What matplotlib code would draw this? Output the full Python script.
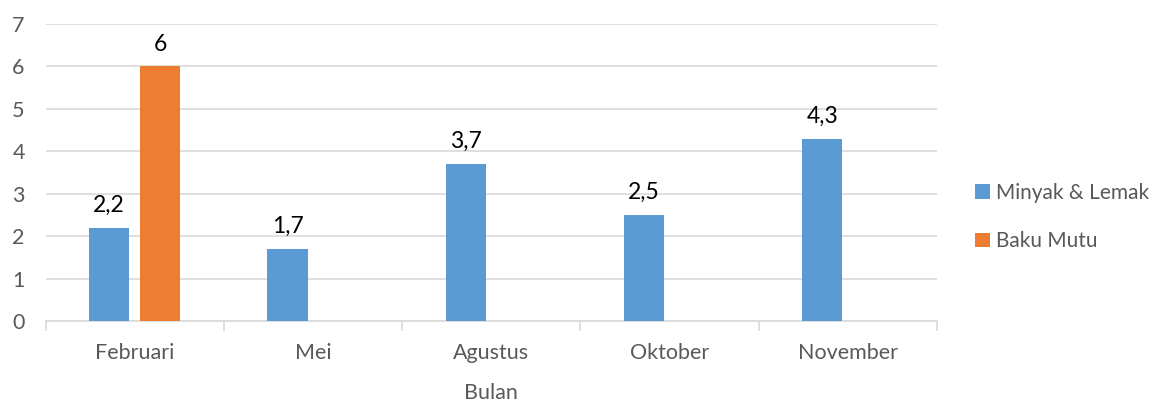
import matplotlib.pyplot as plt
import numpy as np

bulan = ["Februari", "Mei", "Agustus", "Oktober", "November"]
minyak_lemak = [2.2, 1.7, 3.7, 2.5, 4.3]
baku_mutu = [6, None, None, None, None]

blue = "#5b9bd5"
orange = "#ed7d31"
grey = "#595959"

plt.rcParams['font.family'] = ['Lato', 'DejaVu Sans']

fig = plt.figure(figsize=(11.69, 4.03), dpi=100)
ax = fig.add_axes([0.039, 0.2035, 0.7625, 0.7369])

x = np.arange(len(bulan))
w = 0.225
off = 0.143

ax.bar(x - off, minyak_lemak, w, color=blue, label="Minyak & Lemak", zorder=3)
bm_x = [xi + off for xi, v in zip(x, baku_mutu) if v is not None]
bm_v = [v for v in baku_mutu if v is not None]
ax.bar(bm_x, bm_v, w, color=orange, label="Baku Mutu", zorder=3)

for xi, v in zip(x - off, minyak_lemak):
    ax.text(xi, v + 0.28, f"{v}".replace(".", ","), ha="center", va="bottom", fontsize=16.5, color="black")
for xi, v in zip(bm_x, bm_v):
    ax.text(xi, v + 0.28, f"{v:g}".replace(".", ","), ha="center", va="bottom", fontsize=16.5, color="black")

ax.set_xlim(-0.5, len(bulan) - 0.5)
ax.set_ylim(0, 7)
ax.set_yticks(range(0, 8))
ax.yaxis.grid(True, color="#d9d9d9", linewidth=1.2, zorder=0)
ax.set_axisbelow(True)

ax.set_xticks(x)
ax.set_xticklabels(bulan)
ax.set_xticks(np.arange(-0.5, len(bulan)), minor=True)
ax.tick_params(axis="x", which="major", length=0, pad=16, labelsize=15.5, labelcolor=grey)
ax.tick_params(axis="x", which="minor", length=7, color="#d9d9d9", width=1.2)
ax.tick_params(axis="y", length=0, labelsize=15.5, labelcolor=grey)
for t in ax.get_yticklabels():
    t.set_horizontalalignment("left")
ax.yaxis.set_tick_params(pad=24)

for s in ["top", "right", "left"]:
    ax.spines[s].set_visible(False)
ax.spines["bottom"].set_color("#d9d9d9")
ax.spines["bottom"].set_linewidth(1.2)

ax.set_xlabel("Bulan", fontsize=15.5, color=grey, labelpad=14)

ax.legend(loc="center left", bbox_to_anchor=(1.022, 0.35), frameon=False, fontsize=15,
          labelcolor=grey, handlelength=0.7, handleheight=0.7, handletextpad=0.3,
          labelspacing=1.35)

fig.savefig("out.png", dpi=100)
